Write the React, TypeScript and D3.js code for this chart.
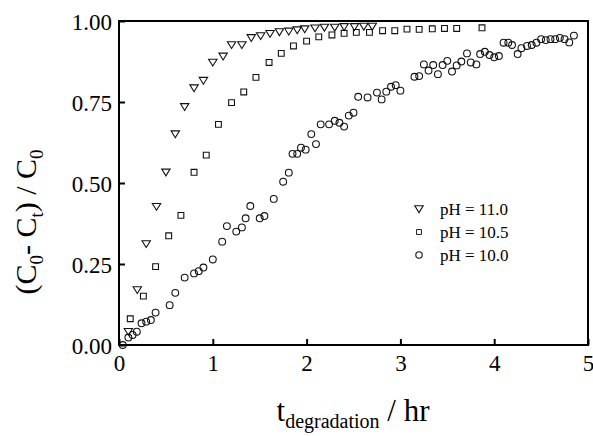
import React, { useEffect, useRef } from "react";
import * as d3 from "d3";

// pH = 11.0 (triangles)
const tri_t = [0.1, 0.195, 0.29, 0.4, 0.5, 0.6, 0.7, 0.8, 0.9, 1.0, 1.11, 1.2, 1.31, 1.41, 1.51, 1.61, 1.71, 1.81, 1.9, 1.98, 2.09, 2.19, 2.3, 2.4, 2.51, 2.61, 2.7];
const tri_y = [0.041, 0.17, 0.312, 0.427, 0.533, 0.651, 0.735, 0.793, 0.816, 0.872, 0.891, 0.926, 0.926, 0.948, 0.954, 0.961, 0.966, 0.968, 0.972, 0.975, 0.978, 0.98, 0.98, 0.982, 0.982, 0.983, 0.983];

// pH = 10.5 (squares)
const sq_t = [0.12, 0.26, 0.39, 0.53, 0.66, 0.8, 0.93, 1.06, 1.2, 1.33, 1.46, 1.6, 1.73, 1.86, 2.0, 2.13, 2.27, 2.4, 2.53, 2.67, 2.81, 2.94, 3.07, 3.2, 3.34, 3.47, 3.6, 3.87];
const sq_y = [0.081, 0.151, 0.242, 0.337, 0.4, 0.533, 0.586, 0.681, 0.748, 0.781, 0.826, 0.872, 0.9, 0.923, 0.938, 0.951, 0.957, 0.962, 0.965, 0.965, 0.97, 0.97, 0.975, 0.974, 0.976, 0.977, 0.977, 0.979];

// pH = 10.0 (circles)
const circ_t = [0.04, 0.1, 0.145, 0.19, 0.24, 0.29, 0.34, 0.39, 0.54, 0.6, 0.7, 0.8, 0.85, 0.9, 1.0, 1.1, 1.15, 1.25, 1.31, 1.35, 1.4, 1.5, 1.55, 1.65, 1.75, 1.81, 1.85, 1.9, 1.94, 1.99, 2.05, 2.1, 2.15, 2.24, 2.3, 2.35, 2.4, 2.45, 2.5, 2.55, 2.65, 2.75, 2.8, 2.85, 2.9, 2.95, 3.0, 3.15, 3.2, 3.25, 3.3, 3.35, 3.4, 3.45, 3.5, 3.55, 3.6, 3.65, 3.71, 3.75, 3.81, 3.85, 3.9, 3.95, 4.0, 4.05, 4.1, 4.15, 4.19, 4.25, 4.29, 4.35, 4.4, 4.45, 4.5, 4.55, 4.6, 4.65, 4.7, 4.75, 4.8, 4.85];
const circ_y = [0.0, 0.023, 0.031, 0.041, 0.067, 0.072, 0.077, 0.1, 0.123, 0.161, 0.208, 0.221, 0.228, 0.239, 0.264, 0.319, 0.367, 0.35, 0.363, 0.391, 0.429, 0.391, 0.398, 0.451, 0.504, 0.532, 0.59, 0.59, 0.609, 0.603, 0.651, 0.62, 0.681, 0.681, 0.692, 0.686, 0.674, 0.708, 0.717, 0.766, 0.764, 0.779, 0.758, 0.782, 0.797, 0.802, 0.785, 0.828, 0.83, 0.866, 0.847, 0.864, 0.836, 0.864, 0.877, 0.844, 0.863, 0.875, 0.9, 0.872, 0.866, 0.898, 0.905, 0.895, 0.888, 0.892, 0.933, 0.933, 0.926, 0.898, 0.916, 0.923, 0.926, 0.933, 0.944, 0.941, 0.944, 0.944, 0.948, 0.944, 0.934, 0.955];

const xTicks = [0, 1, 2, 3, 4, 5];
const yTicks = [0, 0.25, 0.5, 0.75, 1.0];
const legendLabels = ["pH = 11.0", "pH = 10.5", "pH = 10.0"];

const W = 593;
const H = 436;
const font = "'Liberation Serif', 'DejaVu Serif', serif";

const triPath = "M-4.2,-3.2L4.2,-3.2L0,3.6Z";
const sqPath = "M-2.9,-2.9H2.9V2.9H-2.9Z";

export default function App() {
  const svgRef = useRef<SVGSVGElement>(null);

  useEffect(() => {
    const m = { left: 119, top: 21, right: 5, bottom: 91 };
    const x = d3.scaleLinear().domain([0, 5]).range([m.left, W - m.right]);
    const y = d3.scaleLinear().domain([0, 1]).range([H - m.bottom, m.top]);

    const svg = d3.select(svgRef.current);
    svg.selectAll("*").remove();

    // points
    const g = svg.append("g");
    g.selectAll("path.tri")
      .data(d3.zip(tri_t, tri_y))
      .join("path")
      .attr("d", triPath)
      .attr("transform", (d) => `translate(${x(d[0])},${y(d[1])})`)
      .attr("fill", "none")
      .attr("stroke", "#111")
      .attr("stroke-width", 1.1);
    g.selectAll("path.sq")
      .data(d3.zip(sq_t, sq_y))
      .join("path")
      .attr("d", sqPath)
      .attr("transform", (d) => `translate(${x(d[0])},${y(d[1])})`)
      .attr("fill", "none")
      .attr("stroke", "#111")
      .attr("stroke-width", 1.1);
    g.selectAll("circle")
      .data(d3.zip(circ_t, circ_y))
      .join("circle")
      .attr("cx", (d) => x(d[0]))
      .attr("cy", (d) => y(d[1]))
      .attr("r", 3.4)
      .attr("fill", "none")
      .attr("stroke", "#111")
      .attr("stroke-width", 1.1);

    // frame
    svg.append("rect")
      .attr("x", x(0))
      .attr("y", y(1))
      .attr("width", x(5) - x(0))
      .attr("height", y(0) - y(1))
      .attr("fill", "none")
      .attr("stroke", "#000")
      .attr("stroke-width", 2);

    // x axis
    const xa = svg.append("g").attr("transform", `translate(0,${y(0)})`)
      .call(d3.axisBottom(x).tickValues(xTicks).tickSize(-6).tickFormat(d3.format("d")));
    xa.select(".domain").remove();
    xa.selectAll("line").attr("stroke-width", 2);
    xa.selectAll("text").attr("font-family", font).attr("font-size", 23).attr("fill", "#000").attr("dy", "0.71em").attr("y", 10);

    const ya = svg.append("g").attr("transform", `translate(${x(0)},0)`)
      .call(d3.axisLeft(y).tickValues(yTicks).tickSize(-6).tickFormat(d3.format(".2f")));
    ya.select(".domain").remove();
    ya.selectAll("line").attr("stroke-width", 2);
    ya.selectAll("text").attr("font-family", font).attr("font-size", 23).attr("fill", "#000").attr("x", -7).attr("dy", "0.36em");

    // y label
    const yl = svg.append("text")
      .attr("transform", `translate(36,${222}) rotate(-90)`)
      .attr("text-anchor", "middle")
      .attr("font-family", font)
      .attr("font-size", 30)
      .attr("fill", "#000");
    yl.append("tspan").text("(C");
    yl.append("tspan").attr("font-size", 19).attr("dy", 7).text("0");
    yl.append("tspan").attr("dy", -7).text("- C");
    yl.append("tspan").attr("font-size", 19).attr("dy", 7).text("t");
    yl.append("tspan").attr("dy", -7).text(") / C");
    yl.append("tspan").attr("font-size", 19).attr("dy", 7).text("0");

    // x label
    const xl = svg.append("text")
      .attr("x", 353)
      .attr("y", 421)
      .attr("text-anchor", "middle")
      .attr("font-family", font)
      .attr("font-size", 31)
      .attr("fill", "#000");
    xl.append("tspan").text("t");
    xl.append("tspan").attr("font-size", 20).attr("dy", 7).text("degradation");
    xl.append("tspan").attr("dy", -7).text(" / hr");

    // legend
    const paths = [triPath, sqPath, null];
    const lg = svg.append("g");
    legendLabels.forEach((lab, i) => {
      const cy = 209 + i * 23;
      if (paths[i]) {
        lg.append("path")
          .attr("d", paths[i] as string)
          .attr("transform", `translate(419,${cy})${i === 1 ? " scale(0.85)" : ""}`)
          .attr("fill", "none")
          .attr("stroke", "#111")
          .attr("stroke-width", 1.1);
      } else {
        lg.append("circle").attr("cx", 419).attr("cy", cy).attr("r", 3.2)
          .attr("fill", "none").attr("stroke", "#111").attr("stroke-width", 1.1);
      }
      lg.append("text")
        .attr("x", 440)
        .attr("y", cy + 6)
        .attr("font-family", font)
        .attr("font-size", 17)
        .attr("fill", "#000")
        .text(lab);
    });
  }, []);

  return (
    <div>
      <style>{"body{margin:0}"}</style>
      <svg ref={svgRef} width={W} height={H} style={{ display: "block", background: "#fff" }} />
    </div>
  );
}
